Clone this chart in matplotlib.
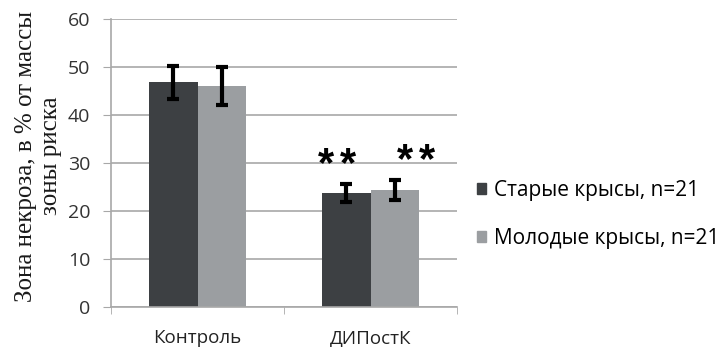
import numpy as np
import matplotlib
matplotlib.use("Agg")
import matplotlib.pyplot as plt
from matplotlib.patches import Patch

categories = ['Контроль', 'ДИПостК']
series_names = ['Старые крысы, n=21', 'Молодые крысы, n=21']
old_vals = [46.8, 23.8]
old_err = [3.4, 1.9]
young_vals = [46.0, 24.3]
young_err = [4.0, 2.1]
stars = [0, 2]  # number of asterisks over each category

dark = '#3d4043'
light = '#9b9ea1'
grid_c = '#a8a8a8'

fig = plt.figure(figsize=(7.23, 3.47), dpi=100)
ax = fig.add_axes([111 / 723, 1 - 307 / 347, 346 / 723, 288 / 347])

x = np.arange(len(categories))
w = 0.283

ax.bar(x - w / 2, old_vals, w, color=dark, zorder=2)
ax.bar(x + w / 2, young_vals, w, color=light, zorder=2)
ax.errorbar(x - w / 2, old_vals, yerr=old_err, fmt='none', ecolor='black',
            elinewidth=3, capsize=4, capthick=3, zorder=3)
ax.errorbar(x + w / 2, young_vals, yerr=young_err, fmt='none', ecolor='black',
            elinewidth=3, capsize=4, capthick=3, zorder=3)

# significance marks (two asterisks, drawn one by one to get the spacing)
def put_stars(xc, yc, n):
    for k in range(n):
        dx = (k - (n - 1) / 2) * 16
        ax.annotate('*', (xc, yc), xytext=(dx, 0), textcoords='offset points',
                    ha='center', va='center', fontsize=30,
                    family='Liberation Sans', fontweight='bold')

for i, n in enumerate(stars):
    if n:
        put_stars(x[i] - w / 2 - 0.05, 29.6, n)
        put_stars(x[i] + w / 2 + 0.12, 30.4, n)

ax.set_xlim(-0.5, 1.5)
ax.set_ylim(0, 60)
ax.set_yticks(np.arange(0, 61, 10))
ax.yaxis.grid(True, color=grid_c, linewidth=1.2, zorder=0)
ax.set_axisbelow(True)

ax.set_xticks([-0.5, 0.5, 1.5], minor=True)
ax.set_xticks(x)
ax.set_xticklabels(categories)
ax.tick_params(axis='x', which='major', length=0, pad=16, labelsize=13.5, labelcolor='#222222')
ax.tick_params(axis='x', which='minor', length=5, color=grid_c)
ax.tick_params(axis='y', length=6, color=grid_c, labelsize=14, labelcolor='#333333', pad=9)
for lbl in ax.get_xticklabels() + ax.get_yticklabels():
    lbl.set_family('Open Sans')

for side in ['top', 'right']:
    ax.spines[side].set_visible(False)
ax.spines['left'].set_color(grid_c)
ax.spines['bottom'].set_color(grid_c)
ax.spines['left'].set_linewidth(1.2)
ax.spines['bottom'].set_linewidth(1.2)

fig.text(0.053, 0.55, 'Зона некроза, в % от массы\nзоны риска', rotation=90,
         ha='center', va='center', fontsize=18, family='Liberation Serif',
         color='#1a1a1a', linespacing=1.2)

handles = [Patch(color=dark), Patch(color=light)]
fig.legend(handles, series_names, loc='center left', bbox_to_anchor=(477 / 723, 0.382),
           frameon=False, borderpad=0, borderaxespad=0,
           handlelength=0.42, handleheight=0.42, handletextpad=0.4,
           labelspacing=1.3, prop={'family': 'Open Sans', 'size': 15})

plt.savefig('out.png', dpi=100)
